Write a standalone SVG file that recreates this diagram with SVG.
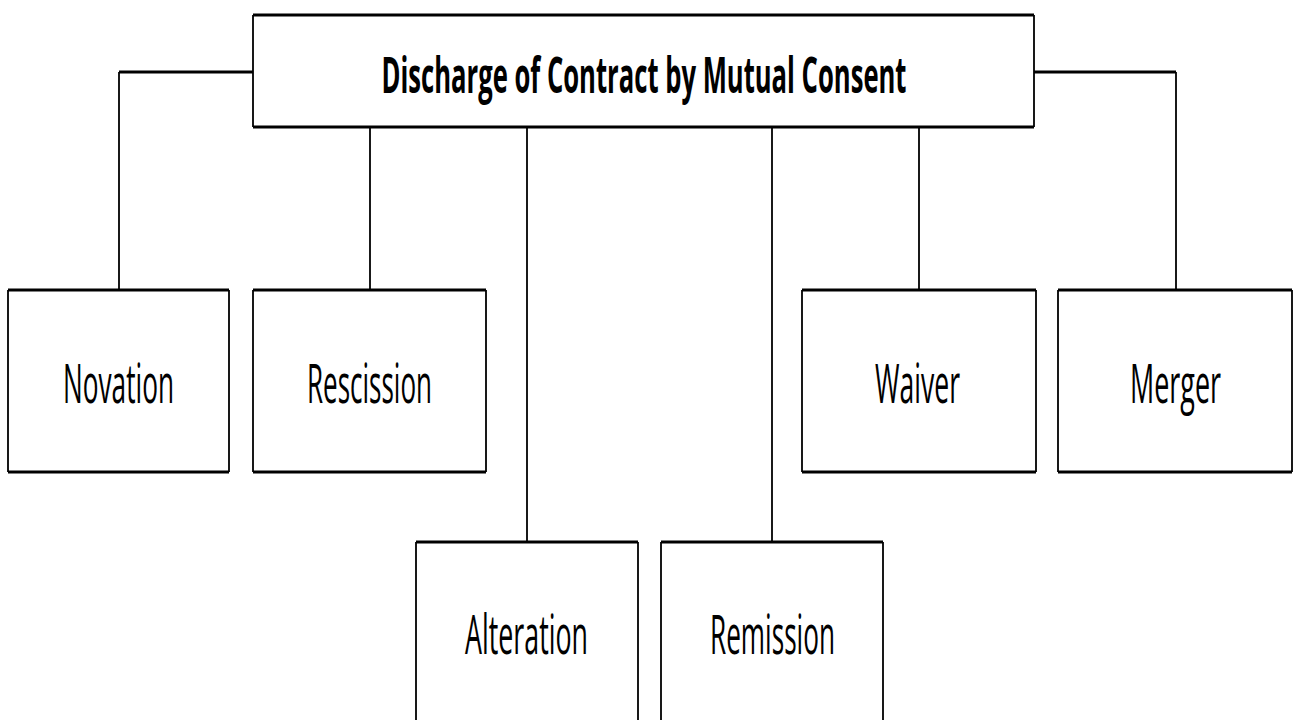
<svg xmlns="http://www.w3.org/2000/svg" width="1294" height="720" viewBox="0 0 1294 720">
  <style>
    .fill { fill: #ffffff; stroke: none; }
    .hz { stroke: #000; stroke-width: 3; fill: none; }
    .vt { stroke: #000; stroke-width: 1.8; fill: none; }
    .label { font-family: "Open Sans", "Liberation Sans", sans-serif; font-size: 54px; fill: #000; text-anchor: middle; }
    .title { font-family: "Open Sans", "Liberation Sans", sans-serif; font-size: 50px; font-weight: bold; fill: #000; text-anchor: middle; }
  </style>
  <rect width="1294" height="720" fill="#ffffff"/>

  <!-- connectors: horizontal runs drawn heavier than vertical drops -->
  <g id="connectors">
    <path class="hz" d="M253 72 H119"/>
    <path class="vt" d="M119 72 V290"/>
    <path class="hz" d="M1034 72 H1176"/>
    <path class="vt" d="M1176 72 V290"/>
    <path class="vt" d="M370 127 V290"/>
    <path class="vt" d="M527 127 V542"/>
    <path class="vt" d="M772 127 V542"/>
    <path class="vt" d="M919 127 V290"/>
  </g>

  <g id="root">
    <rect class="fill" x="253" y="15" width="781" height="112"/>
    <path class="vt" d="M253 15 V127 M1034 15 V127"/>
    <path class="hz" d="M253 15 H1034 M253 127 H1034"/>
    <text class="title" x="644" y="93" textLength="525" lengthAdjust="spacingAndGlyphs">Discharge of Contract by Mutual Consent</text>
  </g>

  <g id="novation">
    <rect class="fill" x="8" y="290" width="221" height="182"/>
    <path class="vt" d="M8 290 V472 M229 290 V472"/>
    <path class="hz" d="M8 290 H229 M8 472 H229"/>
    <text class="label" x="118.5" y="403" textLength="111" lengthAdjust="spacingAndGlyphs">Novation</text>
  </g>

  <g id="rescission">
    <rect class="fill" x="253" y="290" width="233" height="182"/>
    <path class="vt" d="M253 290 V472 M486 290 V472"/>
    <path class="hz" d="M253 290 H486 M253 472 H486"/>
    <text class="label" x="369.5" y="403" textLength="125" lengthAdjust="spacingAndGlyphs">Rescission</text>
  </g>

  <g id="waiver">
    <rect class="fill" x="802" y="290" width="234" height="182"/>
    <path class="vt" d="M802 290 V472 M1036 290 V472"/>
    <path class="hz" d="M802 290 H1036 M802 472 H1036"/>
    <text class="label" x="917.5" y="403" textLength="85" lengthAdjust="spacingAndGlyphs">Waiver</text>
  </g>

  <g id="merger">
    <rect class="fill" x="1058" y="290" width="234" height="182"/>
    <path class="vt" d="M1058 290 V472 M1292 290 V472"/>
    <path class="hz" d="M1058 290 H1292 M1058 472 H1292"/>
    <text class="label" x="1175.5" y="403" textLength="91" lengthAdjust="spacingAndGlyphs">Merger</text>
  </g>

  <g id="alteration">
    <rect class="fill" x="416" y="542" width="222" height="190"/>
    <path class="vt" d="M416 542 V730 M638 542 V730"/>
    <path class="hz" d="M416 542 H638"/>
    <text class="label" x="526.5" y="654" textLength="123" lengthAdjust="spacingAndGlyphs">Alteration</text>
  </g>

  <g id="remission">
    <rect class="fill" x="661" y="542" width="222" height="190"/>
    <path class="vt" d="M661 542 V730 M883 542 V730"/>
    <path class="hz" d="M661 542 H883"/>
    <text class="label" x="772.5" y="654" textLength="125" lengthAdjust="spacingAndGlyphs">Remission</text>
  </g>
</svg>
